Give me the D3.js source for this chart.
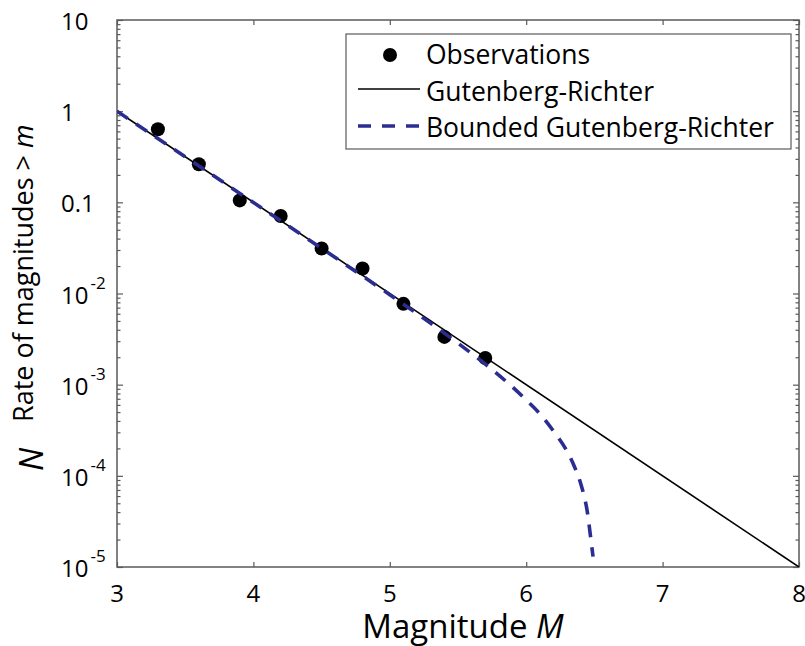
<!DOCTYPE html>
<html>
<head>
<meta charset="utf-8">
<script src="https://cdn.jsdelivr.net/npm/d3@7"></script>
<style>
	html, body { margin: 0; padding: 0; background: #fff; }
	svg { display: block; font-family: 'Open Sans', sans-serif; }
</style>
</head>
<body>
<div id="chart"></div>
<script>
// observations
var obsM = [3.3, 3.6, 3.9, 4.2, 4.5, 4.8, 5.1, 5.4, 5.7];
var obsN = [0.634, 0.262, 0.105, 0.0707, 0.0312, 0.0188, 0.0077, 0.00334, 0.00196];
// Gutenberg-Richter line
var grM = [3, 8];
var grN = [1, 1e-5];
// bounded Gutenberg-Richter curve
var bgrM = [3.0, 3.5, 4.0, 4.5, 5.0, 5.5, 5.7, 5.9, 6.0, 6.1, 6.2, 6.3, 6.35, 6.4, 6.42, 6.45, 6.47, 6.49];
var bgrN = [1.0, 0.316, 0.0997, 0.0313, 0.00969, 0.00285, 0.00168, 0.00094, 0.00068, 0.00048, 0.00031, 0.000185, 0.00013, 0.000082, 0.000064, 0.0000386, 0.0000226, 0.000013];
// ticks
var xTicks = [3, 4, 5, 6, 7, 8];
var yTicks = [10, 1, 0.1, 1e-2, 1e-3, 1e-4, 1e-5];
var yTickBase = ['10', '1', '0.1', '10', '10', '10', '10'];
var yTickExp = ['', '', '', '-2', '-3', '-4', '-5'];
var legendNames = ['Observations', 'Gutenberg-Richter', 'Bounded Gutenberg-Richter'];

var W = 805, H = 646;
var pL = 117, pR = 799, pT = 20, pB = 567;
var axisColor = '#5a5a5a';
var blue = '#2b2e90';

var svg = d3.select('#chart').append('svg')
	.attr('width', W)
	.attr('height', H);

var x = d3.scaleLinear().domain([3, 8]).range([pL, pR]);
var y = d3.scaleLog().domain([1e-5, 10]).range([pB, pT]);

// clip to plot area
svg.append('clipPath').attr('id', 'plotclip')
	.append('rect')
	.attr('x', pL).attr('y', pT)
	.attr('width', pR - pL).attr('height', pB - pT);

// minor log ticks
var minor = [];
for (var e = -5; e < 1; e++) {
	for (var k = 2; k <= 9; k++) minor.push(k * Math.pow(10, e));
}

// axes (inward ticks, box on all sides)
var axisG = svg.append('g');
function styleAxis(g) {
	g.select('.domain').remove();
	g.selectAll('line').attr('stroke', axisColor).attr('stroke-width', 1.2);
	g.selectAll('text').remove();
}
axisG.append('g').attr('transform', 'translate(0,' + pB + ')')
	.call(d3.axisBottom(x).tickValues(xTicks).tickSize(-5)).call(styleAxis);
axisG.append('g').attr('transform', 'translate(0,' + pT + ')')
	.call(d3.axisTop(x).tickValues(xTicks).tickSize(-5)).call(styleAxis);
axisG.append('g').attr('transform', 'translate(' + pL + ',0)')
	.call(d3.axisLeft(y).tickValues(yTicks).tickSize(-6)).call(styleAxis);
axisG.append('g').attr('transform', 'translate(' + pR + ',0)')
	.call(d3.axisRight(y).tickValues(yTicks).tickSize(-6)).call(styleAxis);
axisG.append('g').attr('transform', 'translate(' + pL + ',0)')
	.call(d3.axisLeft(y).tickValues(minor).tickSize(-3.5)).call(styleAxis);
axisG.append('g').attr('transform', 'translate(' + pR + ',0)')
	.call(d3.axisRight(y).tickValues(minor).tickSize(-3.5)).call(styleAxis);

svg.append('rect')
	.attr('x', pL).attr('y', pT)
	.attr('width', pR - pL).attr('height', pB - pT)
	.attr('fill', 'none')
	.attr('stroke', axisColor)
	.attr('stroke-width', 1.5);

// tick labels
svg.append('g').selectAll('text')
	.data(xTicks).enter().append('text')
	.attr('x', function(d){ return x(d); })
	.attr('y', pB + 35)
	.attr('text-anchor', 'middle')
	.attr('font-size', 24)
	.text(function(d){ return d; });

var yl = svg.append('g').selectAll('text')
	.data(yTicks).enter().append('text')
	.attr('x', 61)
	.attr('y', function(d){ return y(d) + 10; })
	.attr('font-size', 24);
yl.append('tspan').text(function(d, i){ return yTickBase[i]; });
yl.append('tspan')
	.attr('font-size', 17)
	.attr('dx', 2)
	.attr('dy', -15)
	.text(function(d, i){ return yTickExp[i]; });

// axis titles
var xt = svg.append('text')
	.attr('x', 463)
	.attr('y', 638)
	.attr('text-anchor', 'middle')
	.attr('font-size', 33);
xt.append('tspan').text('Magnitude ');
xt.append('tspan').attr('font-style', 'italic').text('M');

var yt = svg.append('text')
	.attr('transform', 'translate(33,422) rotate(-90)')
	.attr('font-size', 27);
yt.append('tspan').text('Rate of magnitudes > ');
yt.append('tspan').attr('font-style', 'italic').text('m');

svg.append('text')
	.attr('transform', 'translate(43,471) rotate(-90)')
	.attr('font-size', 33)
	.attr('font-style', 'italic')
	.text('N');

// data
var plot = svg.append('g').attr('clip-path', 'url(#plotclip)');

plot.selectAll('circle')
	.data(obsM).enter().append('circle')
	.attr('cx', function(d){ return x(d); })
	.attr('cy', function(d, i){ return y(obsN[i]); })
	.attr('r', 7)
	.attr('fill', '#000');

var line = d3.line()
	.x(function(d){ return x(d[0]); })
	.y(function(d){ return y(d[1]); });

plot.append('path')
	.datum(d3.zip(grM, grN))
	.attr('d', line)
	.attr('fill', 'none')
	.attr('stroke', '#000')
	.attr('stroke-width', 1.6);

plot.append('path')
	.datum(d3.zip(bgrM, bgrN))
	.attr('d', line.curve(d3.curveMonotoneX))
	.attr('fill', 'none')
	.attr('stroke', blue)
	.attr('stroke-width', 3.6)
	.attr('stroke-dasharray', '13,10');

// legend
var lg = svg.append('g');
lg.append('rect')
	.attr('x', 346).attr('y', 34)
	.attr('width', 445).attr('height', 115)
	.attr('fill', '#fff')
	.attr('stroke', axisColor)
	.attr('stroke-width', 1.2);
lg.append('circle')
	.attr('cx', 390).attr('cy', 55).attr('r', 7).attr('fill', '#000');
lg.append('line')
	.attr('x1', 358).attr('x2', 420).attr('y1', 89).attr('y2', 89)
	.attr('stroke', '#000').attr('stroke-width', 1.6);
lg.append('line')
	.attr('x1', 358).attr('x2', 420).attr('y1', 126).attr('y2', 126)
	.attr('stroke', blue).attr('stroke-width', 3.6)
	.attr('stroke-dasharray', '13,11');
lg.selectAll('text')
	.data(legendNames).enter().append('text')
	.attr('x', 426)
	.attr('y', function(d, i){ return 64 + i * 36.5; })
	.attr('font-size', 26.5)
	.text(function(d){ return d; });
</script>
</body>
</html>
